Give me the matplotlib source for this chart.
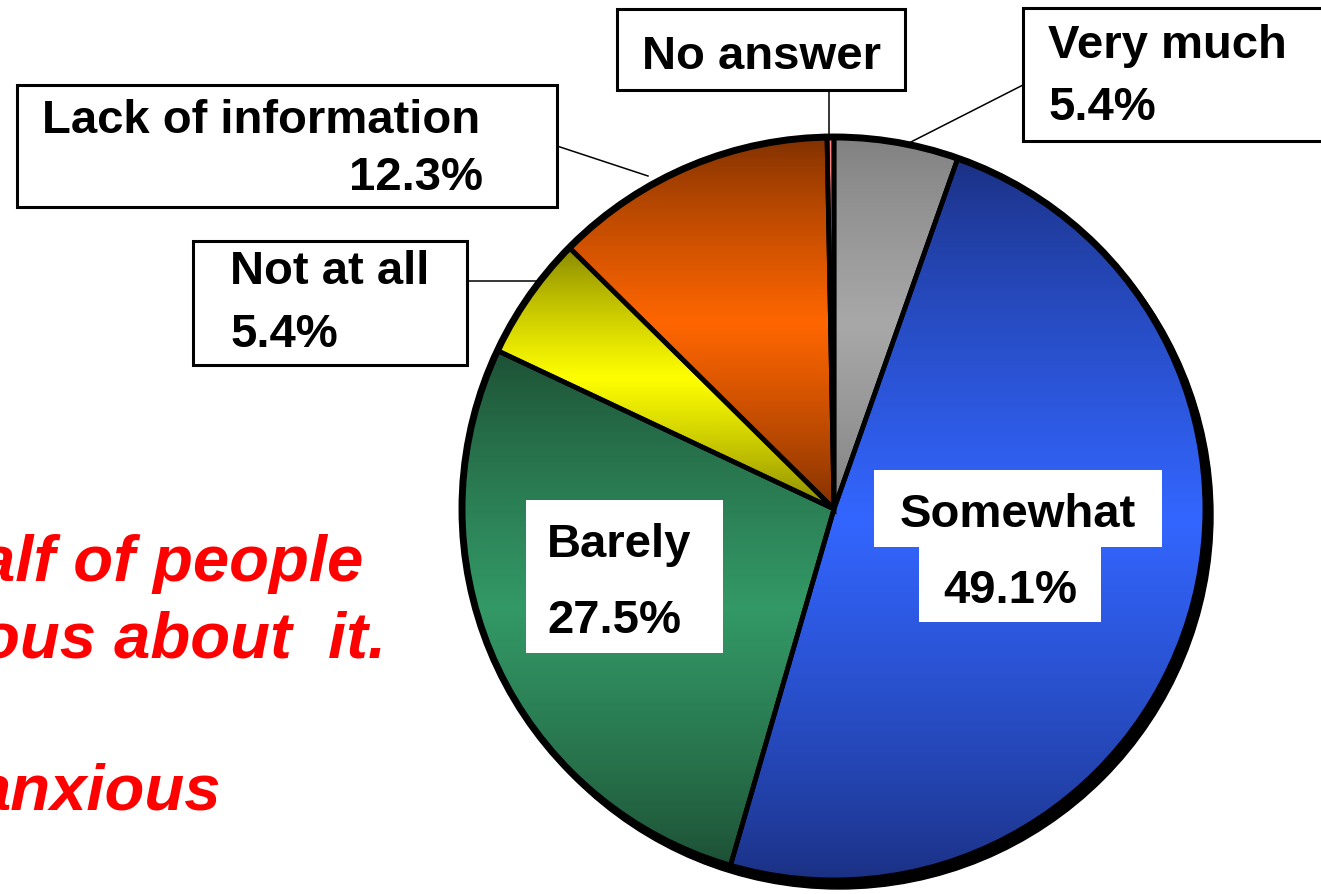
import numpy as np
import matplotlib
matplotlib.use("Agg")
import matplotlib.pyplot as plt
from matplotlib.patches import Rectangle, Circle
from matplotlib.colors import to_rgb

# answers to the question, percentages
labels = ["Very much", "Somewhat", "Barely", "Not at all", "Lack of information", "No answer"]
values = [5.4, 49.1, 27.5, 5.4, 12.3, 0.3]
pct_text = ["5.4%", "49.1%", "27.5%", "5.4%", "12.3%", ""]

# dark (top/bottom) and bright (middle) colours of each slice
dark_cols = ["#7f7f7f", "#1a2f80", "#1c4d33", "#808000", "#7a2e00", "#ff8080"]
mid_cols = ["#a8a8a8", "#3366ff", "#339966", "#ffff00", "#ff6600", "#ff8080"]

W, H = 1321, 895
plt.rcParams['font.family'] = ['Liberation Sans', 'DejaVu Sans']

fig = plt.figure(figsize=(W / 100, H / 100), dpi=100)
ax = fig.add_axes([0, 0, 1, 1])


def Y(y):
    # picture coords -> data coords
    return H - y


cx, cy, R = 834, Y(510), 372

# shadow behind the pie
ax.add_patch(Circle((cx + 5, cy - 6), R + 2, color="black", zorder=1))

wedges, _ = ax.pie(values, startangle=90, counterclock=False, center=(cx, cy),
                   radius=R, wedgeprops=dict(linewidth=0, edgecolor="none"))
for w in wedges:
    w.set_zorder(2)

# vertical gradient in each slice
for i, w in enumerate(wedges):
    th = np.radians(np.linspace(w.theta1, w.theta2, 200))
    ys = np.concatenate([cy + R * np.sin(th), [cy]])
    xs = np.concatenate([cx + R * np.cos(th), [cx]])
    y0, y1 = ys.min(), ys.max()
    t = np.linspace(0, 1, 256)
    s = (1 - np.abs(2 * t - 1)) ** 0.8
    d = np.array(to_rgb(dark_cols[i]))
    m = np.array(to_rgb(mid_cols[i]))
    img = d[None, :] + (m - d)[None, :] * s[:, None]
    im = ax.imshow(img[:, None, :], extent=(xs.min() - 2, xs.max() + 2, y0 - 2, y1 + 2),
                   origin="lower", aspect="auto", zorder=3, interpolation="bilinear")
    im.set_clip_path(w)

# edges on top
wedges2, _ = ax.pie(values, startangle=90, counterclock=False, center=(cx, cy),
                    radius=R, wedgeprops=dict(linewidth=3.4, edgecolor="black",
                                              facecolor="none"))
for w in wedges2:
    w.set_zorder(4)
ax.add_patch(Circle((cx, cy), R, fill=False, edgecolor="black", lw=5, zorder=5))

fs = 34
tkw = dict(fontsize=fs, fontweight="bold", color="black", zorder=8)


def box(x0, y0, x1, y1, border=True):
    ax.add_patch(Rectangle((x0, Y(y1)), x1 - x0, y1 - y0, facecolor="white",
                           edgecolor="black" if border else "none",
                           lw=2.2 if border else 0, zorder=7, clip_on=False))


# leader lines
lkw = dict(color="black", lw=1.1, zorder=6)
ax.plot([829, 829], [Y(91), Y(136)], **lkw)
ax.plot([1023, 905], [Y(86), Y(146)], **lkw)
ax.plot([557, 648], [Y(147), Y(177)], **lkw)
ax.plot([466, 537], [Y(282), Y(282)], **lkw)

# outside labels
box(617, 10, 905, 91)
ax.text(761, Y(69), labels[5], ha="center", va="baseline", **tkw)

box(1023, 9, 1345, 142)
ax.text(1048, Y(58), labels[0], ha="left", va="baseline", **tkw)
ax.text(1048, Y(120), pct_text[0], ha="left", va="baseline", **tkw)

box(17, 86, 557, 208)
ax.text(42, Y(133), labels[4], ha="left", va="baseline", **tkw)
ax.text(483, Y(190), pct_text[4], ha="right", va="baseline", **tkw)

box(193, 242, 467, 366)
ax.text(230, Y(284), labels[3], ha="left", va="baseline", **tkw)
ax.text(230, Y(347), pct_text[3], ha="left", va="baseline", **tkw)

# labels inside the pie
box(874, 471, 1162, 548, border=False)
box(919, 547, 1101, 623, border=False)
ax.text(1018, Y(527), labels[1], ha="center", va="baseline", **tkw)
ax.text(1010, Y(603), pct_text[1], ha="center", va="baseline", **tkw)

box(526, 501, 723, 654, border=False)
ax.text(547, Y(557), labels[2], ha="left", va="baseline", **tkw)
ax.text(547, Y(633), pct_text[2], ha="left", va="baseline", **tkw)

# red comment text, cut by the left edge of the slide
rkw = dict(fontsize=47, fontweight="bold", fontstyle="italic", color="#ff0000",
           ha="right", va="baseline", zorder=8)
ax.text(363, Y(581), "alf of people", **rkw)
ax.text(386, Y(657), "ous about  it.", **rkw)
ax.text(221, Y(810), "anxious", **rkw)

ax.set_xlim(0, W)
ax.set_ylim(0, H)
ax.set_aspect("auto")
ax.axis("off")

fig.savefig("out.png", dpi=100, facecolor="white")
